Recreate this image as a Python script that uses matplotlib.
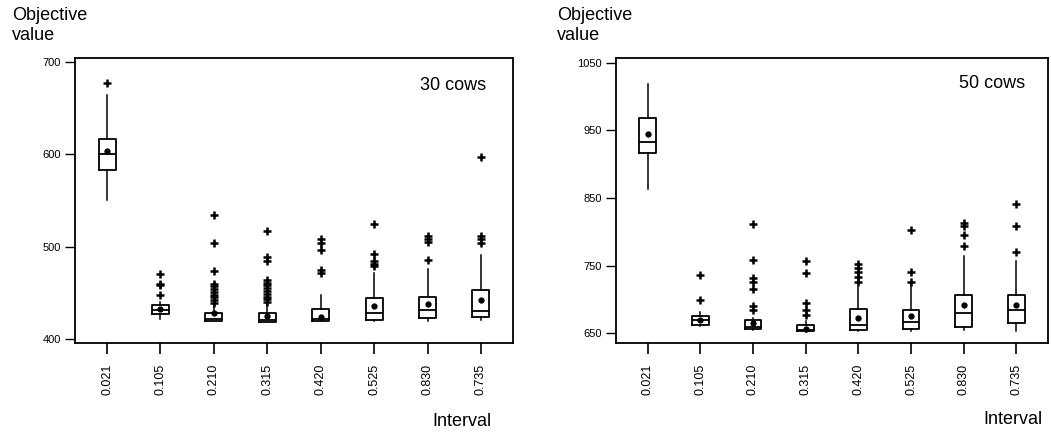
import matplotlib
matplotlib.use("Agg")
import matplotlib.pyplot as plt

plt.rcParams['font.family'] = ['Liberation Sans', 'DejaVu Sans']

intervals = ["0.021", "0.105", "0.210", "0.315", "0.420", "0.525", "0.830", "0.735"]

# 30 cows
c30_whislo = [550, 422, 419.5, 418, 419.5, 419.5, 419, 420.5]
c30_q1 = [582.5, 427, 420, 418, 420, 420.5, 422.5, 424]
c30_med = [600.5, 431, 422, 420.5, 422, 428.5, 431, 430.7]
c30_q3 = [617, 436.5, 428.5, 428.5, 432, 444, 446, 453]
c30_whishi = [664, 440, 438, 438, 448, 471, 476, 491]
c30_mean = [604, 432, 428, 425, 424, 436, 438, 442]
c30_fliers = [
    [677],
    [447.5, 458.5, 460, 470],
    [439, 442, 445, 448, 451, 454, 457, 460, 473.5, 504, 534],
    [440, 443, 446, 449, 452, 455, 458, 461, 464, 485, 489, 517],
    [471.5, 475, 496.5, 503.5, 508],
    [479, 481, 484, 492, 525],
    [486, 505.5, 508, 511.5],
    [504, 508, 512, 597],
]

# 50 cows
c50_whislo = [863, 661, 654, 652, 652.5, 653, 654, 653]
c50_q1 = [917, 662, 655.4, 653.4, 654, 655.4, 659, 664.8]
c50_med = [933, 668.7, 659, 655, 661.3, 666, 679.5, 683.5]
c50_q3 = [968, 675.5, 669, 661.8, 685, 684.4, 705.6, 705.6]
c50_whishi = [1019.5, 681, 672, 668, 718, 722, 764.6, 757.3]
c50_mean = [945, 669.7, 664.8, 656.4, 672.1, 674.6, 690.8, 691.8]
c50_fliers = [
    [],
    [698.7, 735.6],
    [684, 690, 714.5, 725.7, 732, 757.7, 810.9],
    [676.6, 684, 694.7, 739, 756],
    [726, 733, 740, 746, 752],
    [725.3, 740, 802.5],
    [778.4, 795.2, 809, 812.4],
    [769.6, 808.9, 840.9],
]


def make_stats(whislo, q1, med, q3, whishi, mean, fliers):
    out = []
    for i in range(len(q1)):
        out.append(dict(whislo=whislo[i], q1=q1[i], med=med[i], q3=q3[i],
                        whishi=whishi[i], mean=mean[i], fliers=fliers[i],
                        label=intervals[i]))
    return out


fig = plt.figure(figsize=(10.51, 4.34), dpi=100)
W, H = 1051.0, 434.0
ax1 = fig.add_axes([75 / W, (H - 343) / H, 438 / W, 285 / H])
ax2 = fig.add_axes([616 / W, (H - 343) / H, 432 / W, 285 / H])

boxprops = dict(color='black', linewidth=1.3)
medianprops = dict(color='black', linewidth=1.3)
whiskerprops = dict(color='black', linewidth=1.1)
meanprops = dict(marker='o', markerfacecolor='black', markeredgecolor='black', markersize=3.5)
flierprops = dict(marker='+', markeredgecolor='black', markersize=6, markeredgewidth=1.8)

panels = [
    (ax1, make_stats(c30_whislo, c30_q1, c30_med, c30_q3, c30_whishi, c30_mean, c30_fliers),
     (395.7, 704.3), [400, 500, 600, 700], "30 cows", (0.863, 0.902)),
    (ax2, make_stats(c50_whislo, c50_q1, c50_med, c50_q3, c50_whishi, c50_mean, c50_fliers),
     (635.2, 1057.4), [650, 750, 850, 950, 1050], "50 cows", (0.870, 0.912)),
]

for ax, stats, ylim, yticks, label, lpos in panels:
    ax.bxp(stats, positions=list(range(1, 9)), widths=0.32, showmeans=True,
           showcaps=False, showfliers=True, boxprops=boxprops,
           medianprops=medianprops, whiskerprops=whiskerprops,
           meanprops=meanprops, flierprops=flierprops)
    ax.set_xlim(0.4, 8.6)
    ax.set_ylim(*ylim)
    ax.set_yticks(yticks)
    ax.set_yticklabels([str(t) for t in yticks])
    ax.set_xticks(list(range(1, 9)))
    ax.set_xticklabels(intervals, rotation=90)
    ax.tick_params(axis='y', direction='out', length=7, width=1, labelsize=8, pad=3)
    ax.tick_params(axis='x', direction='out', length=8, width=1.2, labelsize=9, pad=7)
    for s in ax.spines.values():
        s.set_linewidth(1.3)
        s.set_color('black')
    ax.text(lpos[0], lpos[1], label, transform=ax.transAxes, ha='center',
            va='center', fontsize=13)

fig.text(12 / W, 1 - 7 / H, "Objective\nvalue", ha='left', va='top', fontsize=13,
         linespacing=1.2)
fig.text(557 / W, 1 - 7 / H, "Objective\nvalue", ha='left', va='top', fontsize=13,
         linespacing=1.2)
fig.text(462 / W, 1 - 421 / H, "Interval", ha='center', va='center', fontsize=13)
fig.text(1013 / W, 1 - 420 / H, "Interval", ha='center', va='center', fontsize=13)

fig.savefig("out.png", dpi=100)
